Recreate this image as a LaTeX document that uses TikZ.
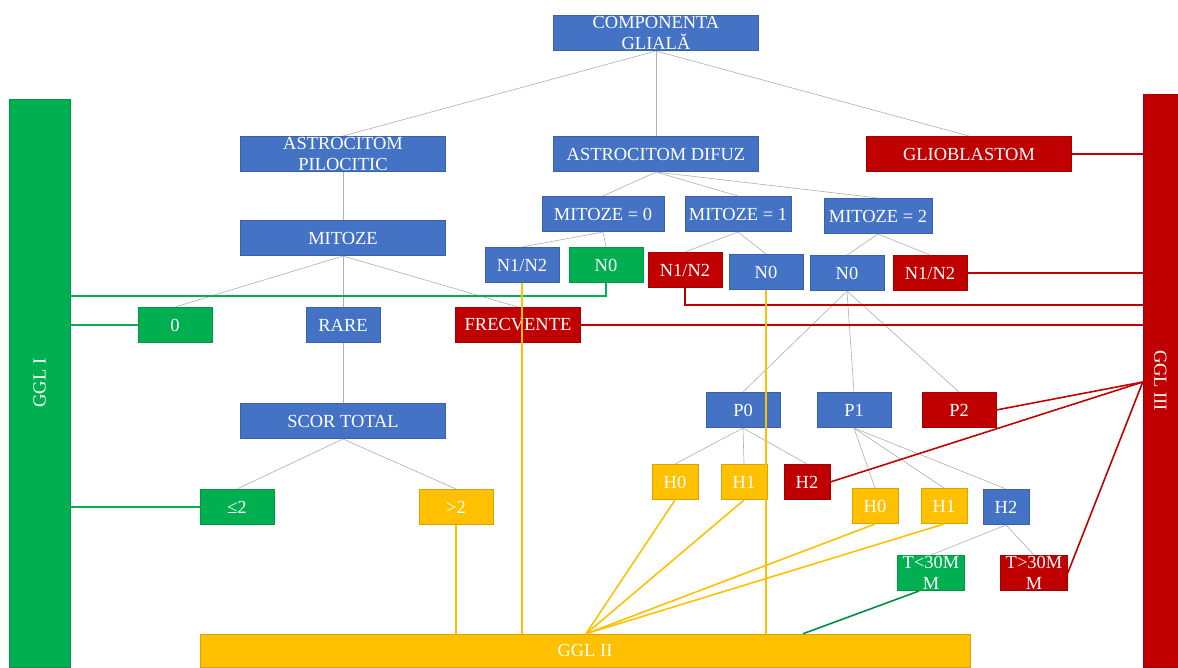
\documentclass[tikz,border=0pt]{standalone}
\usepackage{fontspec}
\setmainfont{Liberation Serif}
\usepackage{graphicx}
\usetikzlibrary{positioning, calc}
\definecolor{GGBlue}{RGB}{68,114,196}
\definecolor{GGGreen}{RGB}{0,176,80}
\definecolor{GGRed}{RGB}{192,0,0}
\definecolor{GGGold}{RGB}{255,192,0}
\definecolor{GGGray}{RGB}{175,175,175}

\begin{document}
\begin{tikzpicture}[x=0.02cm, y=-0.02cm,
    box/.style={text=white, inner sep=0pt, minimum width=1.48cm, minimum height=0.71cm,
                align=center, font=\fontsize{10.5}{12}\selectfont, line width=0.3pt},
    bbox/.style={box, fill=GGBlue, draw=GGBlue!85!black},
    gbox/.style={box, fill=GGGreen, draw=GGGreen!85!black},
    rbox/.style={box, fill=GGRed, draw=GGRed!85!black},
    ybox/.style={box, fill=GGGold, draw=GGGold!85!black},
    hbox/.style={minimum width=0.92cm},
    tbox/.style={minimum width=1.34cm},
    wide/.style={minimum width=4.1cm},
    tree/.style={GGGray, line width=0.35pt},
    glink/.style={GGGreen, line width=0.9pt},
    rlink/.style={GGRed, line width=0.9pt},
    ylink/.style={GGGold, line width=0.9pt}]
  \useasboundingbox (0,0) rectangle (1178,667);

  % ---- grade bars ----
  \node[gbox, minimum width=1.22cm, minimum height=11.36cm] (ggl1) at (39.5,383)
        {\rotatebox{90}{GGL I}};
  \node[rbox, minimum width=0.70cm, minimum height=11.46cm] (ggl3) at (1160.5,380.5)
        {\rotatebox{-90}{GGL III}};
  \node[ybox, minimum width=15.4cm, minimum height=0.66cm] (ggl2) at (585,650.5) {GGL II};

  % ---- top levels ----
  \node[bbox, wide] (comp) at (656,33) {COMPONENTA\\GLIALĂ};
  \node[bbox, wide] (pilo) at (343,154) {ASTROCITOM\\PILOCITIC};
  \node[bbox, wide] (difuz) at (656,154) {ASTROCITOM DIFUZ};
  \node[rbox, wide] (gliob) at (969,154) {GLIOBLASTOM};

  % ---- pilocitic branch ----
  \node[bbox, wide] (mitoze) at (343,238) {MITOZE};
  \node[gbox] (zero) at (175,325) {0};
  \node[bbox] (rare) at (343,325) {RARE};
  \node[rbox, minimum width=2.5cm] (frecv) at (518,325) {FRECVENTE};
  \node[bbox, wide] (scor) at (343,421) {SCOR TOTAL};
  \node[gbox] (le2) at (237,507) {≤2};
  \node[ybox] (gt2) at (456,507) {>2};

  % ---- difuz branch ----
  \node[bbox, minimum width=2.44cm] (mit0) at (603,214) {MITOZE = 0};
  \node[bbox, minimum width=2.12cm] (mit1) at (738,214) {MITOZE = 1};
  \node[bbox, minimum width=2.16cm] (mit2) at (878,216) {MITOZE = 2};
  \node[bbox] (nn0) at (522,265) {N1/N2};
  \node[gbox] (n0a) at (606,265) {N0};
  \node[rbox] (nn1) at (685,270) {N1/N2};
  \node[bbox] (n0b) at (766,272) {N0};
  \node[bbox] (n0c) at (847,273) {N0};
  \node[rbox] (nn2) at (930,273) {N1/N2};
  \node[bbox] (p0) at (743,410) {P0};
  \node[bbox] (p1) at (854,410) {P1};
  \node[rbox] (p2) at (959,410) {P2};
  \node[ybox, hbox] (h0a) at (675,482) {H0};
  \node[ybox, hbox] (h1a) at (744,482) {H1};
  \node[rbox, hbox] (h2a) at (807,482) {H2};
  \node[ybox, hbox] (h0b) at (875,506) {H0};
  \node[ybox, hbox] (h1b) at (944,506) {H1};
  \node[bbox, hbox] (h2b) at (1006,507) {H2};
  \node[gbox, tbox] (tlo) at (931,573) {T<30M\\M};
  \node[rbox, tbox] (thi) at (1034,573) {T>30M\\M};

  % ---- tree edges ----
  \foreach \a/\b in {comp/pilo, comp/difuz, comp/gliob, pilo/mitoze,
                     mitoze/zero, mitoze/rare, mitoze/frecv, rare/scor,
                     scor/le2, scor/gt2, difuz/mit0, difuz/mit1, difuz/mit2,
                     mit0/nn0, mit0/n0a, mit1/nn1, mit1/n0b, mit2/n0c, mit2/nn2,
                     n0c/p0, n0c/p1, n0c/p2, p0/h0a, p0/h1a, p0/h2a,
                     p1/h0b, p1/h1b, p1/h2b, h2b/tlo, h2b/thi} {
    \draw[tree] (\a.south) -- (\b.north);
  }

  % ---- to GGL I ----
  \coordinate (g1n0) at (ggl1.east |- 0,296);
  \draw[glink] (n0a.south) |- (g1n0);
  \draw[glink] (zero.west) -- (zero.west -| ggl1.east);
  \draw[glink] (le2.west) -- (le2.west -| ggl1.east);

  % ---- to GGL III ----
  \coordinate (g3nn1) at (ggl3.west |- 0,305);
  \coordinate (g3fan) at (ggl3.west |- 0,382);
  \draw[rlink] (gliob.east) -- (gliob.east -| ggl3.west);
  \draw[rlink] (nn2.east) -- (nn2.east -| ggl3.west);
  \draw[rlink] (nn1.south) |- (g3nn1);
  \draw[rlink] (frecv.east) -- (frecv.east -| ggl3.west);
  \foreach \n in {p2, h2a, thi} {
    \draw[rlink] (\n.east) -- (g3fan);
  }

  % ---- to GGL II ----
  \coordinate (g2fan) at (ggl2.north -| 586,0);
  \coordinate (g2tlo) at (ggl2.north -| 803,0);
  \foreach \n in {gt2, nn0, n0b} {
    \draw[ylink] (\n.south) -- (\n.south |- ggl2.north);
  }
  \foreach \n in {h0a, h1a, h0b, h1b} {
    \draw[ylink] (\n.south) -- (g2fan);
  }
  \draw[glink, GGGreen!80!black] ([xshift=-0.24cm]tlo.south) -- (g2tlo);
\end{tikzpicture}
\end{document}
